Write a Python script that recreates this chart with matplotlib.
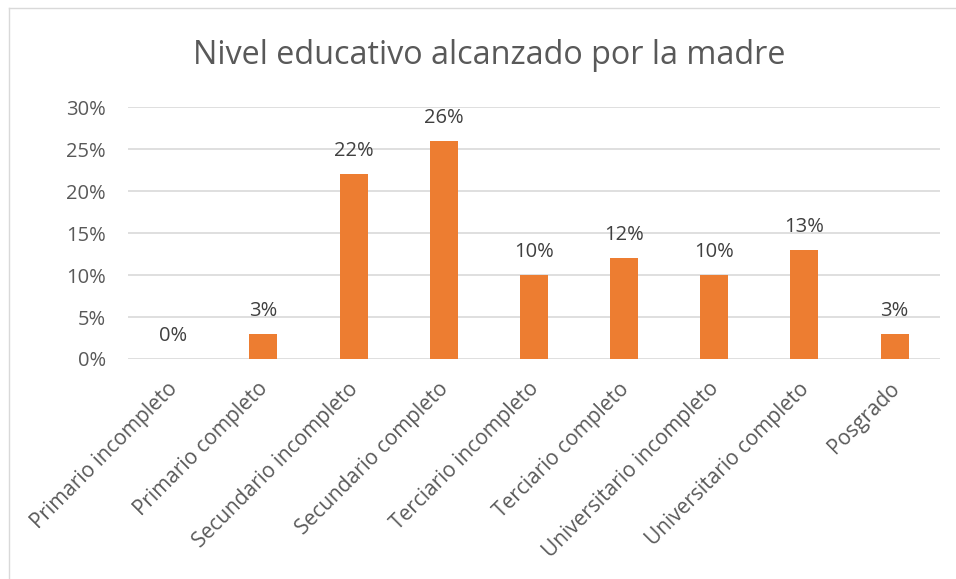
import matplotlib
matplotlib.use("Agg")
import matplotlib.pyplot as plt
import matplotlib.transforms as mtransforms
from matplotlib.lines import Line2D

categorias = [
    "Primario incompleto",
    "Primario completo",
    "Secundario incompleto",
    "Secundario completo",
    "Terciario incompleto",
    "Terciario completo",
    "Universitario incompleto",
    "Universitario completo",
    "Posgrado",
]
porcentajes = [0, 3, 22, 26, 10, 12, 10, 13, 3]
ticks_y = [0, 5, 10, 15, 20, 25, 30]

plt.rcParams["font.family"] = ["Open Sans", "DejaVu Sans"]

fig = plt.figure(figsize=(9.56, 5.79), dpi=100)
ax = fig.add_axes([0.134, 0.380, 0.849, 0.435])

x = list(range(len(categorias)))
ax.bar(x, porcentajes, width=0.31, color="#ED7D31", zorder=3)

for xi, v in zip(x, porcentajes):
    ax.annotate(f"{v}%", (xi, v), xytext=(0, 9.5), textcoords="offset points",
                ha="center", va="bottom", fontsize=14.5, color="#404040")

ax.set_xlim(-0.5, len(categorias) - 0.5)
ax.set_ylim(0, 30)
ax.set_yticks(ticks_y)
ax.set_yticklabels([f"{t}%" for t in ticks_y], fontsize=14.5, color="#595959")
ax.set_xticks(x)
ax.set_xticklabels(categorias, rotation=45, ha="right", rotation_mode="anchor",
                   fontsize=15, color="#595959")
ax.tick_params(axis="both", length=0)
ax.tick_params(axis="x", pad=14)
ax.tick_params(axis="y", pad=16)
ax.grid(axis="y", color="#D9D9D9", linewidth=1.2, zorder=0)
for s in ax.spines.values():
    s.set_visible(False)

# desplazar un poco las etiquetas rotadas hacia la izquierda
desplazar = mtransforms.ScaledTranslation(-0.06, 0, fig.dpi_scale_trans)
for lbl in ax.get_xticklabels():
    lbl.set_transform(lbl.get_transform() + desplazar)

fig.text(0.512, 0.905, "Nivel educativo alcanzado por la madre",
         ha="center", va="center", fontsize=23.3, color="#595959")

# marco del gráfico (solo se ven arriba e izquierda)
fig.add_artist(Line2D([9 / 956, 9 / 956], [0, 1 - 8 / 579], color="#D9D9D9", linewidth=1))
fig.add_artist(Line2D([9 / 956, 1], [1 - 8 / 579, 1 - 8 / 579], color="#D9D9D9", linewidth=1))

fig.savefig("out.png", dpi=100)
